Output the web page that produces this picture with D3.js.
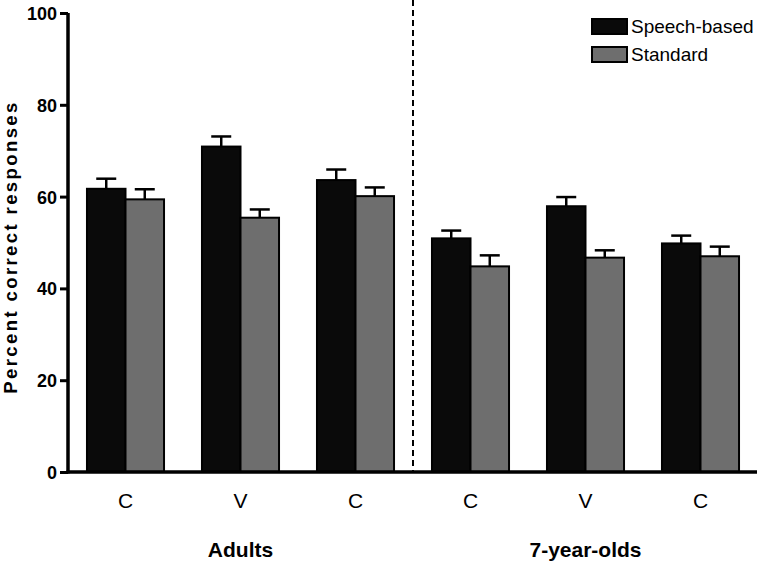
<!DOCTYPE html>
<html>
<head>
<meta charset="utf-8">
<script src="https://cdn.jsdelivr.net/npm/d3@7"></script>
<style>
  html, body { margin: 0; padding: 0; background: #fff; }
  svg { display: block; font-family: Arial, "Liberation Sans", Helvetica, sans-serif; }
</style>
</head>
<body>
<svg id="chart" width="760" height="562"></svg>
<script>
// ---- data ----
const conditions = ["C", "V", "C", "C", "V", "C"];
const populations = ["Adults", "7-year-olds"];
const seriesNames = ["Speech-based", "Standard"];
const speechBased = [61.7, 70.9, 63.6, 50.9, 57.9, 49.8];
const speechBasedErr = [2.2, 2.2, 2.3, 1.7, 2.0, 1.7];
const standard = [59.4, 55.4, 60.1, 44.8, 46.7, 47.0];
const standardErr = [2.2, 1.8, 1.9, 2.4, 1.6, 2.1];
const yTicks = [0, 20, 40, 60, 80, 100];

const colors = ["#0a0a0a", "#6e6e6e"];

// ---- layout ----
const svg = d3.select("#chart");
const mLeft = 68, mRight = 758, mTop = 13, mBottom = 472;

const x0 = d3.scaleBand()
  .domain(d3.range(conditions.length))
  .range([mLeft, mRight])
  .paddingInner(0.33)
  .paddingOuter(0.165);

const x1 = d3.scaleBand()
  .domain(seriesNames)
  .range([0, x0.bandwidth()])
  .padding(0);

const y = d3.scaleLinear().domain([0, 100]).range([mBottom, mTop]);

const rows = conditions.map((c, i) => ({
  i,
  vals: [
    { s: seriesNames[0], v: speechBased[i], e: speechBasedErr[i], c: colors[0] },
    { s: seriesNames[1], v: standard[i], e: standardErr[i], c: colors[1] }
  ]
}));

// dashed divider between populations
const divX = (x0(2) + x0.bandwidth() + x0(3)) / 2;
svg.append("line")
  .attr("x1", divX).attr("x2", divX)
  .attr("y1", 0).attr("y2", mBottom)
  .attr("stroke", "#000").attr("stroke-width", 2)
  .attr("stroke-dasharray", "6,4");

// bars + error bars
const g = svg.selectAll("g.grp").data(rows).enter().append("g")
  .attr("class", "grp")
  .attr("transform", d => `translate(${x0(d.i)},0)`);

const capW = 20;
g.selectAll("line.err").data(d => d.vals).enter().append("line")
  .attr("x1", d => x1(d.s) + x1.bandwidth() / 2)
  .attr("x2", d => x1(d.s) + x1.bandwidth() / 2)
  .attr("y1", d => y(d.v)).attr("y2", d => y(d.v + d.e))
  .attr("stroke", "#000").attr("stroke-width", 2.5);
g.selectAll("line.cap").data(d => d.vals).enter().append("line")
  .attr("x1", d => x1(d.s) + x1.bandwidth() / 2 - capW / 2)
  .attr("x2", d => x1(d.s) + x1.bandwidth() / 2 + capW / 2)
  .attr("y1", d => y(d.v + d.e)).attr("y2", d => y(d.v + d.e))
  .attr("stroke", "#000").attr("stroke-width", 2.5);

g.selectAll("rect").data(d => d.vals).enter().append("rect")
  .attr("x", d => x1(d.s))
  .attr("width", x1.bandwidth())
  .attr("y", d => y(d.v))
  .attr("height", d => y(0) - y(d.v))
  .attr("fill", d => d.c)
  .attr("stroke", "#000")
  .attr("stroke-width", 2);

// y axis
const yAxis = svg.append("g")
  .attr("transform", `translate(${mLeft},0)`)
  .call(d3.axisLeft(y).tickValues(yTicks).tickSize(8).tickPadding(3).tickSizeOuter(0));
yAxis.select(".domain").attr("stroke", "#000").attr("stroke-width", 3.5)
  .attr("d", `M0,${y(100)}V${mBottom + 1.5}`);
yAxis.selectAll(".tick line").attr("stroke", "#000").attr("stroke-width", 3);
yAxis.selectAll(".tick text")
  .attr("fill", "#000")
  .style("font-size", "18px").style("font-weight", "bold")
  .attr("dy", "0.36em");

// x axis line
svg.append("line")
  .attr("x1", mLeft - 1.5).attr("x2", mRight - 1)
  .attr("y1", mBottom).attr("y2", mBottom)
  .attr("stroke", "#000").attr("stroke-width", 3.5);

// condition labels
svg.selectAll("text.cond").data(conditions).enter().append("text")
  .attr("class", "cond")
  .attr("x", (d, i) => x0(i) + x0.bandwidth() / 2)
  .attr("y", 508)
  .attr("text-anchor", "middle")
  .style("font-size", "21px")
  .text(d => d);

// population labels
svg.selectAll("text.pop").data(populations).enter().append("text")
  .attr("class", "pop")
  .attr("x", (d, k) => x0(k * 3 + 1) + x0.bandwidth() / 2)
  .attr("y", 557)
  .attr("text-anchor", "middle")
  .style("font-size", "21px").style("font-weight", "bold")
  .text(d => d);

// y title
svg.append("text")
  .attr("transform", "translate(17,247) rotate(-90)")
  .attr("text-anchor", "middle")
  .style("font-size", "18.5px").style("font-weight", "bold")
  .style("letter-spacing", "2.4px")
  .text("Percent correct responses");

// legend
const leg = svg.append("g").attr("transform", "translate(592,19)");
const li = leg.selectAll("g").data(seriesNames).enter().append("g")
  .attr("transform", (d, i) => `translate(0,${i * 28})`);
li.append("rect")
  .attr("x", 0).attr("y", 0).attr("width", 35).attr("height", 15)
  .attr("fill", (d, i) => colors[i]).attr("stroke", "#000").attr("stroke-width", 2);
li.append("text")
  .attr("x", 39).attr("y", 13.5)
  .style("font-size", "19px")
  .text(d => d);
</script>
</body>
</html>
